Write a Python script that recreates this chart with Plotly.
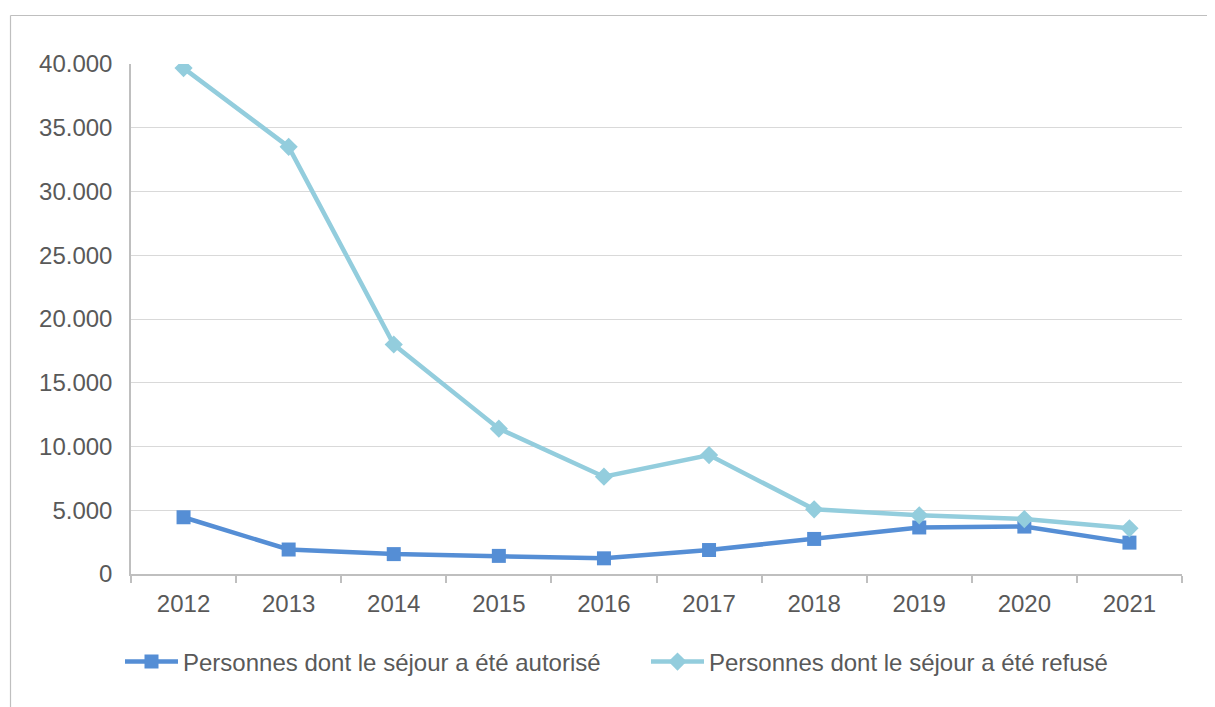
import plotly.graph_objects as go

years = ["2012", "2013", "2014", "2015", "2016", "2017", "2018", "2019", "2020", "2021"]
autorise = [4450, 1920, 1560, 1420, 1230, 1880, 2750, 3650, 3720, 2460]
refuse = [39680, 33500, 18000, 11400, 7630, 9330, 5070, 4600, 4310, 3580]
name_autorise = "Personnes dont le séjour a été autorisé"
name_refuse = "Personnes dont le séjour a été refusé"

OFF = 8  # default page body margin
W, H = 1215 - OFF, 707 - OFF
# target plot area in screen pixels: x 131..1182, y 64..574
L, T = 131 - OFF, 64 - OFF
R = W - (1182 - OFF)
B = H - (574 - OFF)
pw, ph = W - L - R, H - T - B

def px(x):
    return (x - OFF - L) / pw

def py(y):
    return (H - B - (y - OFF)) / ph

fig = go.Figure()
fig.add_trace(go.Scatter(
    x=years, y=autorise, name=name_autorise, mode="lines+markers",
    line=dict(color="#558ED5", width=4.5),
    marker=dict(symbol="square", size=14, color="#558ED5"),
))
fig.add_trace(go.Scatter(
    x=years, y=refuse, name=name_refuse, mode="lines+markers",
    line=dict(color="#93CDDD", width=4.5),
    marker=dict(symbol="diamond", size=14, color="#93CDDD"),
))

font_family = "Liberation Sans, Arial, sans-serif"
fig.update_layout(
    width=W, height=H,
    margin=dict(l=L, r=R, t=T, b=B, pad=0),
    paper_bgcolor="white", plot_bgcolor="white",
    separators=",.",
    font=dict(family=font_family, size=24, color="#595959"),
    showlegend=True,
    legend=dict(orientation="h", x=px(120), xanchor="left", y=py(662), yanchor="middle",
                font=dict(size=24, color="#595959"), itemwidth=53, bgcolor="rgba(0,0,0,0)",
                entrywidth=458, traceorder="normal"),
    shapes=[
        dict(type="line", xref="paper", yref="paper", x0=px(10.5), x1=px(1240), y0=py(15.5), y1=py(15.5),
             line=dict(color="#BFBFBF", width=1.2)),
        dict(type="line", xref="paper", yref="paper", x0=px(10.5), x1=px(10.5), y0=py(15.5), y1=py(730),
             line=dict(color="#BFBFBF", width=1.2)),
    ],
)
fig.update_xaxes(
    type="category", range=[-0.5, 9.5],
    showline=True, linecolor="#BFBFBF", linewidth=1.5,
    ticks="outside", tickson="boundaries", ticklen=7, tickcolor="#BFBFBF", tickwidth=1.5,
    showgrid=False, ticklabelstandoff=7,
    tickfont=dict(size=24, color="#595959"),
)
fig.update_yaxes(
    range=[0, 40000], dtick=5000, tickformat=",d",
    showline=True, linecolor="#BFBFBF", linewidth=1.5,
    showgrid=True, gridcolor="#D9D9D9", gridwidth=1.2,
    zeroline=False, ticks="", ticklabelstandoff=12,
    tickfont=dict(size=24, color="#595959"),
)

fig.write_html("out.html")
